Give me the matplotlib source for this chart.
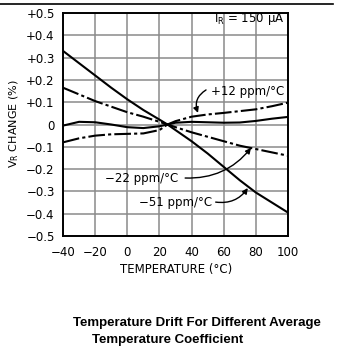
import matplotlib
matplotlib.use("Agg")
import matplotlib.pyplot as plt
from matplotlib.lines import Line2D

# temperature points (deg C)
temp = [-40, -30, -20, -10, 0, 10, 20, 25, 30, 40, 50, 60, 70, 80, 90, 100]

# V_R change (%) for each curve
tc_minus51 = [0.33, 0.275, 0.22, 0.165, 0.113, 0.065, 0.022, 0.0, -0.025, -0.075,
              -0.13, -0.19, -0.25, -0.305, -0.35, -0.395]
tc_minus22 = [0.165, 0.135, 0.105, 0.08, 0.055, 0.035, 0.012, 0.0, -0.012, -0.035,
              -0.055, -0.075, -0.095, -0.11, -0.125, -0.14]
tc_plus12 = [-0.08, -0.062, -0.05, -0.044, -0.042, -0.04, -0.025, 0.0, 0.015, 0.035,
             0.045, 0.052, 0.06, 0.068, 0.082, 0.098]
tc_near0 = [-0.005, 0.012, 0.01, 0.0, -0.012, -0.016, -0.008, 0.0, 0.008, 0.012,
            0.01, 0.008, 0.009, 0.016, 0.026, 0.034]

xticks = [-40, -20, 0, 20, 40, 60, 80, 100]
yticks = [0.5, 0.4, 0.3, 0.2, 0.1, 0.0, -0.1, -0.2, -0.3, -0.4, -0.5]
ytick_labels = ["+0.5", "+0.4", "+0.3", "+0.2", "+0.1", "0",
                "\u22120.1", "\u22120.2", "\u22120.3", "\u22120.4", "\u22120.5"]


def main():
    plt.rcParams['font.family'] = ['DejaVu Sans']
    fig = plt.figure(figsize=(3.42, 3.54), dpi=100)
    ax = fig.add_axes([63 / 342, 1 - 236 / 354, 225 / 342, 223 / 354])

    dashdot = (0, (8, 1.5, 1.5, 1.5))
    ax.plot(temp, tc_minus51, color="black", lw=1.5, zorder=3)
    ax.plot(temp, tc_minus22, color="black", lw=1.5, ls=dashdot, zorder=3)
    ax.plot(temp, tc_plus12, color="black", lw=1.5, ls=dashdot, zorder=3)
    ax.plot(temp, tc_near0, color="black", lw=1.5, zorder=3)

    ax.set_xlim(-40, 100)
    ax.set_ylim(-0.5, 0.5)
    ax.set_xticks(xticks)
    ax.set_xticklabels([str(t).replace("-", "\u2212") for t in xticks])
    ax.set_yticks(yticks)
    ax.set_yticklabels(ytick_labels)
    ax.tick_params(length=0, labelsize=8.5, colors="black")
    ax.tick_params(axis="x", pad=7)
    ax.tick_params(axis="y", pad=6)
    ax.grid(True, color="#8a8a8a", lw=1.1)
    ax.set_axisbelow(True)
    for s in ax.spines.values():
        s.set_linewidth(1.4)

    # labels on the curves
    ax.text(98, 0.475, "I$_\\mathregular{R}$ = 150 \u03bcA", ha="right", va="center", fontsize=8.5)
    ax.text(75, 0.150, "+12 ppm/\u00b0C", ha="center", va="center", fontsize=8.5)
    ax.text(9, -0.244, "\u221222 ppm/\u00b0C", ha="center", va="center", fontsize=8.5)
    ax.text(30, -0.352, "\u221251 ppm/\u00b0C", ha="center", va="center", fontsize=8.5)

    arrow = dict(arrowstyle="-|>", color="black", lw=1.0, mutation_scale=8,
                 shrinkA=0, shrinkB=0)
    ax.annotate("", xy=(44, 0.052), xytext=(49, 0.155),
                arrowprops=dict(arrow, connectionstyle="arc3,rad=0.4"))
    ax.annotate("", xy=(77, -0.105), xytext=(36, -0.240),
                arrowprops=dict(arrow, connectionstyle="arc3,rad=0.25"))
    ax.annotate("", xy=(75, -0.285), xytext=(55, -0.348),
                arrowprops=dict(arrow, connectionstyle="arc3,rad=0.3"))

    fig.text(14 / 342, 1 - 124 / 354, "V$_\\mathregular{R}$ CHANGE (%)", rotation=90,
             ha="center", va="center", fontsize=8)
    fig.text(176 / 342, 1 - 270 / 354, "TEMPERATURE (\u00b0C)", ha="center", va="center",
             fontsize=8.5)

    # top rule and caption
    fig.add_artist(Line2D([0, 333 / 342], [1 - 4 / 354, 1 - 4 / 354], color="black", lw=1.2))
    fig.text(73 / 342, 1 - 323 / 354, "Temperature Drift For Different Average",
             ha="left", va="center", fontsize=9.5, fontweight="bold", family="Liberation Sans")
    fig.text(92 / 342, 1 - 340 / 354, "Temperature Coefficient",
             ha="left", va="center", fontsize=9.5, fontweight="bold", family="Liberation Sans")

    fig.savefig("out.png", dpi=100)
    plt.close(fig)


if __name__ == "__main__":
    main()
